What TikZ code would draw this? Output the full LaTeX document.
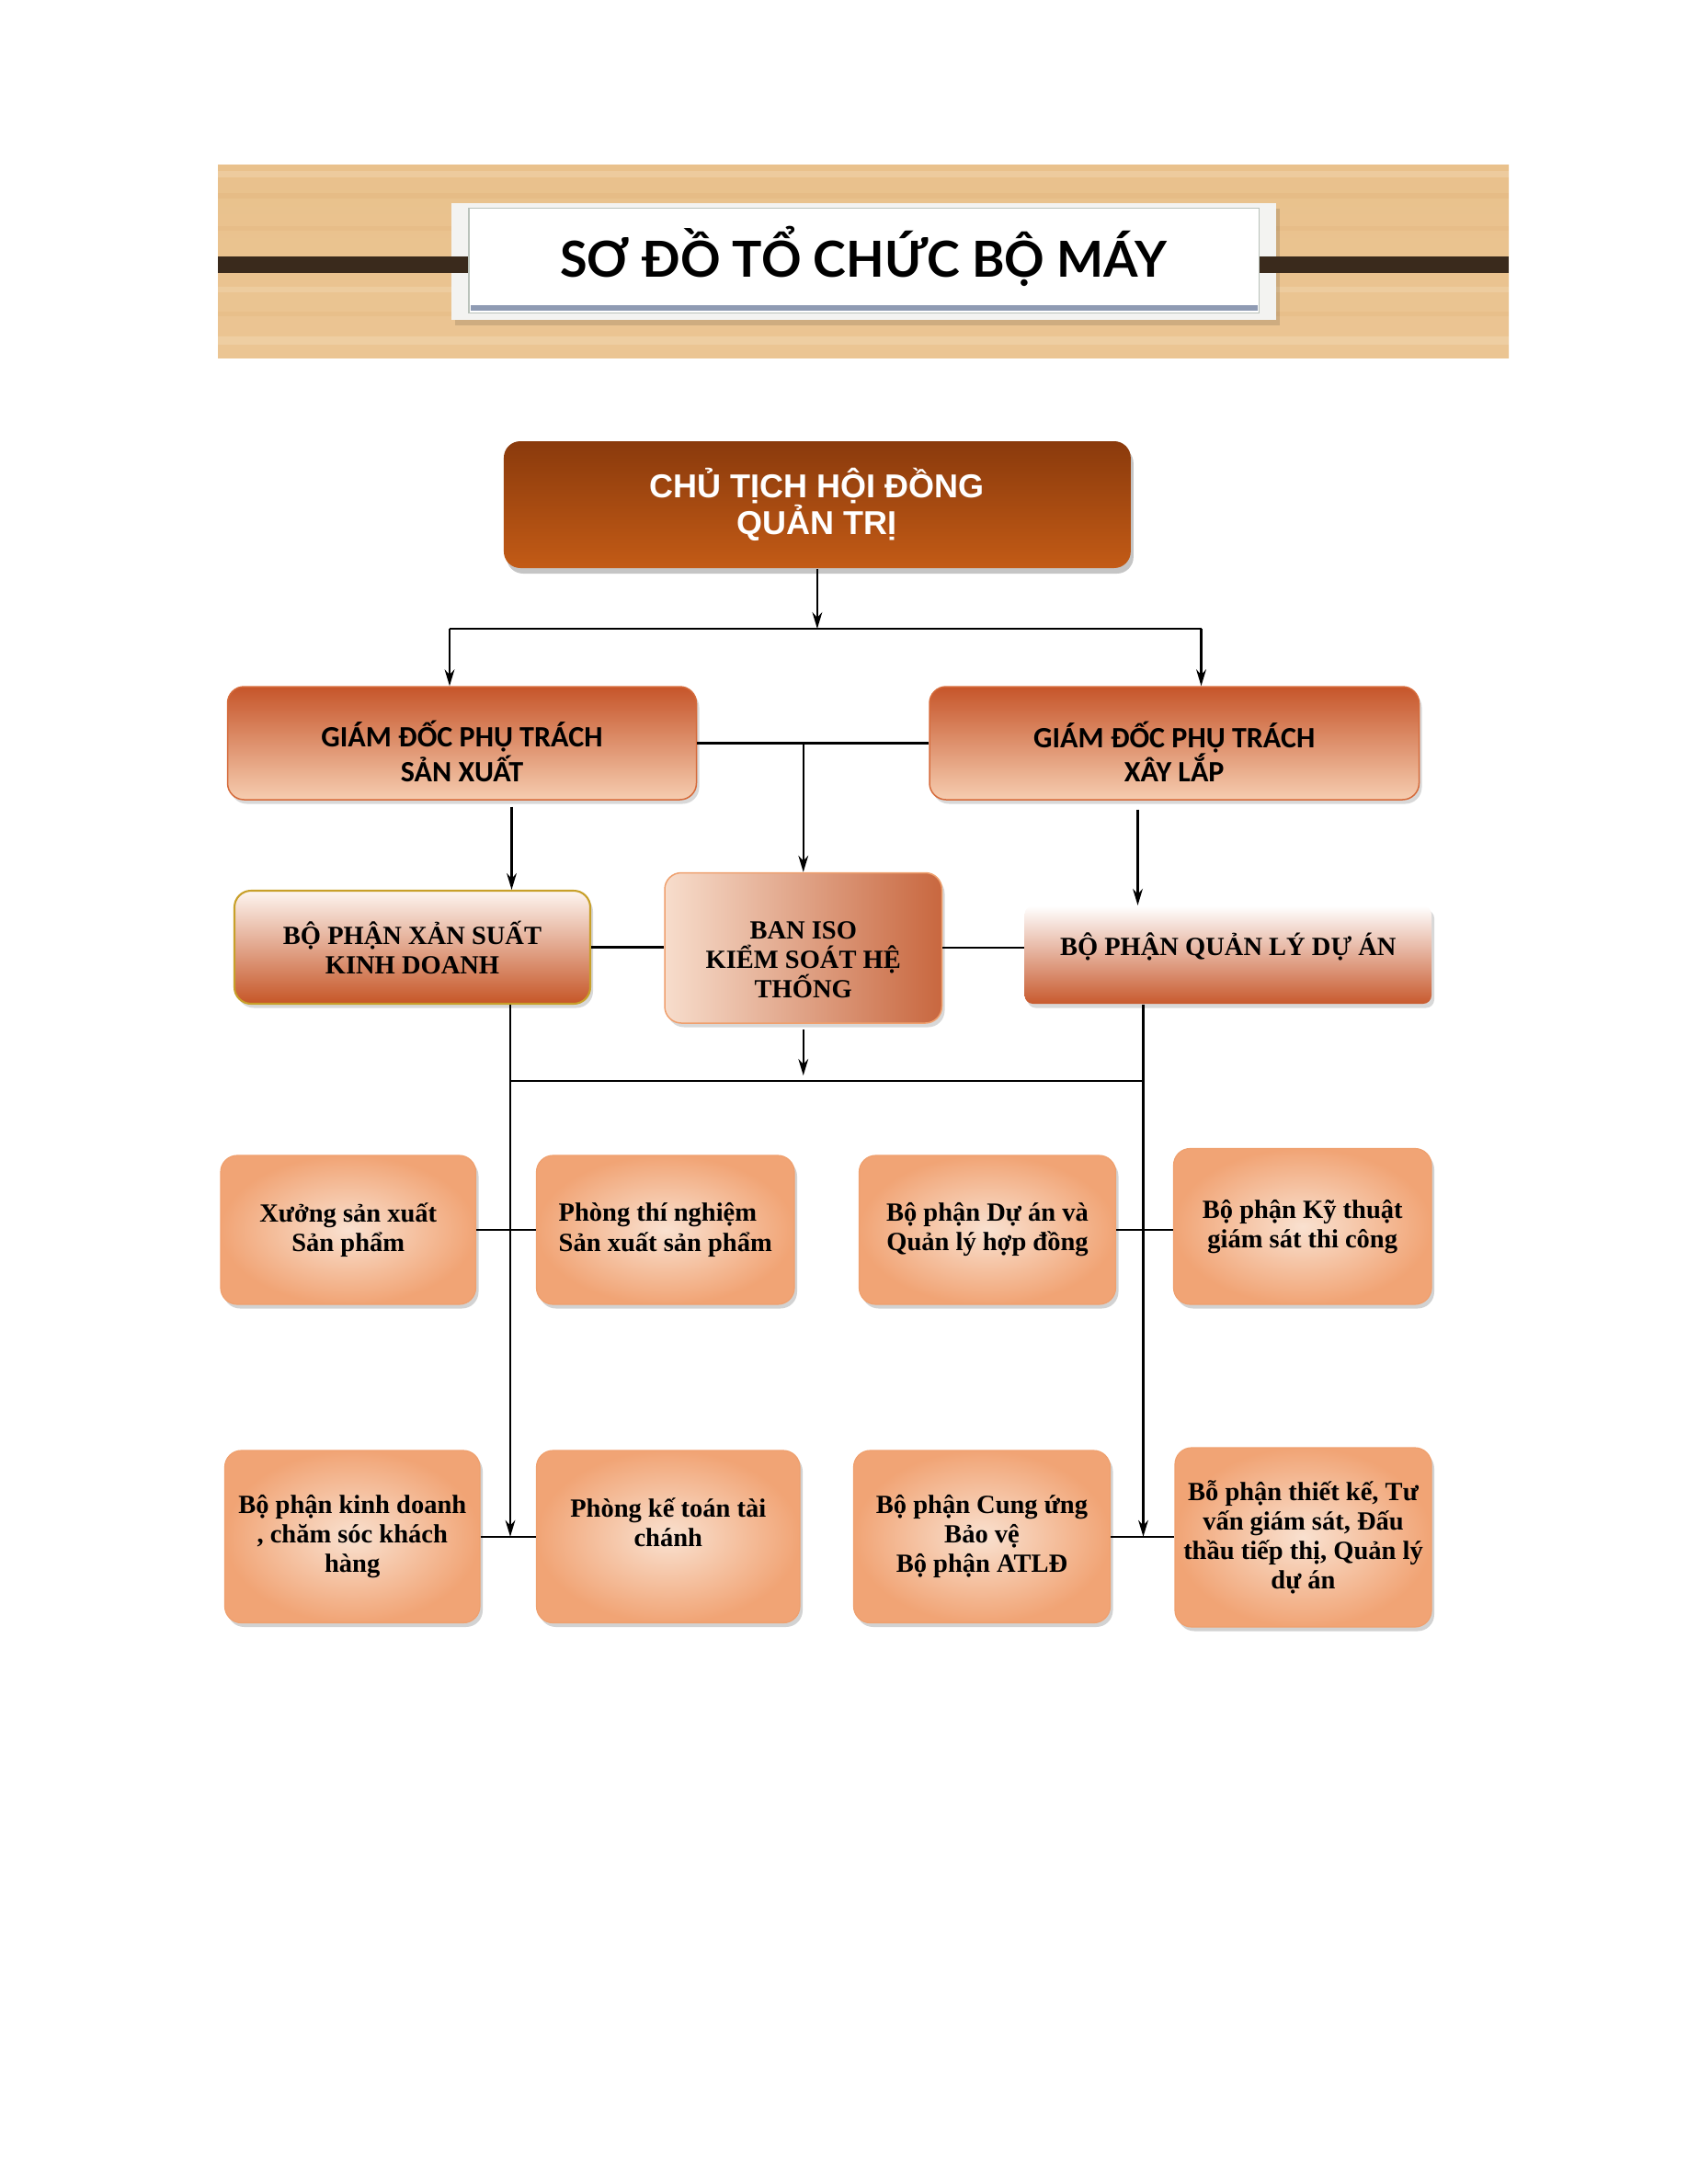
\documentclass[tikz,border=0pt]{standalone}
\usepackage{fontspec}
\setmainfont{Liberation Serif}
\newfontfamily\calibfont{Carlito}
\newfontfamily\latofont{Lato}
\newfontfamily\arialfont{Liberation Sans}
\usetikzlibrary{arrows.meta,shadows}

\definecolor{woodtop}{HTML}{E9C18C}
\definecolor{woodlight}{HTML}{F1D4AA}
\definecolor{woodbot}{HTML}{EBC593}
\definecolor{woodstreak}{HTML}{D9A468}
\definecolor{woodpale}{HTML}{F6E0C0}
\definecolor{stripe}{HTML}{3A2A1C}
\definecolor{framegray}{HTML}{F3F3F1}
\definecolor{frameline}{HTML}{B9C2BA}
\definecolor{titleblue}{HTML}{8F9BB3}
\definecolor{chutop}{HTML}{8A3A0C}
\definecolor{chubot}{HTML}{C35B16}
\definecolor{gdtop}{HTML}{C6552A}
\definecolor{gdmid}{HTML}{E39A76}
\definecolor{gdbot}{HTML}{F6CDB0}
\definecolor{gdedge}{HTML}{D56A3A}
\definecolor{xskdtop}{HTML}{FDF5F0}
\definecolor{xskdmid}{HTML}{E6AE94}
\definecolor{xskdbot}{HTML}{C65627}
\definecolor{xskdedge}{HTML}{C8A02A}
\definecolor{isoin}{HTML}{F7DDCC}
\definecolor{isomid}{HTML}{F2D0BC}
\definecolor{isoout}{HTML}{C8673F}
\definecolor{qldatop}{HTML}{FFFFFF}
\definecolor{qldamid}{HTML}{E6B29C}
\definecolor{qldabot}{HTML}{C85A2E}
\definecolor{peachin}{HTML}{F9E1D0}
\definecolor{peachout}{HTML}{F1A475}
\definecolor{peachedge}{HTML}{EFA06E}

% strut that pushes a first line down
\newcommand\dropline[1]{\rule{0pt}{#1}}

\tikzset{
  unitbox/.style={rounded corners=6pt, inner sep=0pt, align=center,
    font=\bfseries\fontsize{9.5}{10.7}\selectfont},
  chubox/.style={unitbox, top color=chutop, bottom color=chubot, text=white,
    drop shadow={shadow xshift=1pt, shadow yshift=-2pt, fill=black!45},
    font=\arialfont\bfseries\fontsize{12}{13.5}\selectfont},
  gdbox/.style={unitbox, draw=gdedge, line width=0.5pt, top color=gdtop,
    middle color=gdmid, bottom color=gdbot,
    drop shadow={shadow xshift=1pt, shadow yshift=-1.5pt, fill=black!30},
    font=\calibfont\bfseries\fontsize{10.7}{12.5}\selectfont},
  xskdbox/.style={unitbox, draw=xskdedge, line width=0.7pt, top color=xskdtop,
    middle color=xskdmid, bottom color=xskdbot,
    drop shadow={shadow xshift=1pt, shadow yshift=-1.5pt, fill=black!30}},
  isobox/.style={unitbox, draw=peachedge, line width=0.5pt, left color=isoin,
    middle color=isomid, right color=isoout,
    drop shadow={shadow xshift=1pt, shadow yshift=-1.5pt, fill=black!30}},
  qldabox/.style={unitbox, rounded corners=3pt, top color=qldatop,
    middle color=qldamid, bottom color=qldabot,
    drop shadow={shadow xshift=1pt, shadow yshift=-1.5pt, fill=black!30}},
  lowbox/.style={unitbox, draw=peachedge, line width=0.4pt, inner color=peachin,
    outer color=peachout,
    drop shadow={shadow xshift=1pt, shadow yshift=-1.5pt, fill=black!35}},
  link/.style={line width=0.7pt},
  feed/.style={link, -{Stealth[length=6pt,width=3.6pt]}}
}

\begin{document}
\begin{tikzpicture}[x=1pt,y=-1pt]
\useasboundingbox (0,0) rectangle (612,792);

% header
\shade[top color=woodtop, middle color=woodlight, bottom color=woodbot] (79,60) rectangle (547,129.7);
\fill[woodpale, opacity=0.35] (79,62) rectangle (547,64.5);
\fill[woodstreak, opacity=0.18] (79,70) rectangle (547,72);
\fill[woodstreak, opacity=0.15] (79,82) rectangle (547,83.5);
\fill[woodpale, opacity=0.3] (79,104) rectangle (547,106);
\fill[woodstreak, opacity=0.15] (79,113) rectangle (547,114.5);
\fill[woodpale, opacity=0.35] (79,122) rectangle (547,125);
\fill[black, opacity=0.12] (165,75.5) rectangle (464,118);
\fill[framegray] (163.5,73.5) rectangle (462.5,116);
\fill[stripe] (79,93) rectangle (170,99);
\fill[stripe] (456.5,93) rectangle (547,99);
\fill[white, draw=frameline, line width=0.5pt] (170,75.5) rectangle (456.5,113.5);
\fill[titleblue] (170.5,110.5) rectangle (456,112.5);
\node[font=\latofont\bfseries\fontsize{18}{22}\selectfont] (title) at (313,93) {SƠ ĐỒ TỔ CHỨC BỘ MÁY};

% boxes
\node[chubox, minimum width=227.3pt, minimum height=46pt] (chu) at (296.3,183) {CHỦ TỊCH HỘI ĐỒNG\\QUẢN TRỊ};
\node[gdbox, minimum width=170pt, minimum height=41pt] (gdsx) at (167.5,269.5) {\dropline{15.5pt}GIÁM ĐỐC PHỤ TRÁCH\\SẢN XUẤT};
\node[gdbox, minimum width=177.5pt, minimum height=41pt] (gdxl) at (425.75,269.5) {\dropline{15.5pt}GIÁM ĐỐC PHỤ TRÁCH\\XÂY LẮP};
\node[xskdbox, minimum width=129pt, minimum height=41pt] (xskd) at (149.5,343.5) {BỘ PHẬN XẢN SUẤT\\KINH DOANH};
\node[isobox, minimum width=100.5pt, minimum height=54.5pt] (iso) at (291.25,343.75) {\dropline{15pt}BAN ISO\\KIỂM SOÁT HỆ\\THỐNG};
\node[qldabox, minimum width=147.5pt, minimum height=35.5pt] (qlda) at (445.25,346.25) {BỘ PHẬN QUẢN LÝ DỰ ÁN\rule[-8pt]{0pt}{0pt}};

\node[lowbox, minimum width=92.5pt, minimum height=54pt] (xuong) at (126.25,446) {Xưởng sản xuất\\Sản phẩm};
\node[lowbox, minimum width=93.5pt, minimum height=54pt, align=left] (ptn) at (241.25,446) {Phòng thí nghiệm\\Sản xuất sản phẩm};
\node[lowbox, minimum width=93pt, minimum height=54pt] (duan) at (358,446) {Bộ phận Dự án và\\Quản lý hợp đồng};
\node[lowbox, minimum width=93.5pt, minimum height=56.5pt] (kythuat) at (472.25,444.75) {Bộ phận Kỹ thuật\\giám sát thi công};

\node[lowbox, minimum width=92.5pt, minimum height=62.5pt] (kd) at (127.75,557.25) {Bộ phận kinh doanh\\, chăm sóc khách\\hàng};
\node[lowbox, minimum width=95.5pt, minimum height=62.5pt] (ketoan) at (242.25,557.25) {Phòng kế toán tài\\chánh\\\mbox{}};
\node[lowbox, minimum width=93pt, minimum height=62.5pt] (cungung) at (356,557.25) {Bộ phận Cung ứng\\Bảo vệ\\Bộ phận ATLĐ};
\node[lowbox, minimum width=93pt, minimum height=65pt] (thietke) at (472.5,557.5) {Bỗ phận thiết kế, Tư\\vấn giám sát, Đấu\\thầu tiếp thị, Quản lý\\dự án};

% connectors
\coordinate (busTopL) at (163,228);
\coordinate (busTopR) at (435.5,228);
\draw[feed] (chu.south) -- (chu.south |- busTopL);
\draw[link] (busTopL) -- (busTopR);
\draw[feed] (busTopL) -- (busTopL |- gdsx.north);
\draw[feed] (busTopR) -- (busTopR |- gdxl.north);
\draw[link] (gdsx.east) -- (gdxl.west);
\draw[feed] (gdsx.east -| iso.north) -- (iso.north);

\coordinate (sxDrop) at (185.5,292.5);
\coordinate (xlDrop) at (412.5,293.5);
\draw[feed] (sxDrop) -- (sxDrop |- xskd.north);
\draw[feed] (xlDrop) -- (xlDrop |- qlda.north);
\draw[link] (xskd.east) -- (xskd.east -| iso.west);
\draw[link] (iso.east) -- (iso.east -| qlda.west);

\coordinate (trunkL) at (185,392);
\coordinate (trunkR) at (414.5,392);
\draw[link] (trunkL) -- (trunkR);
\draw[feed] ([yshift=-2pt]iso.south) -- ([yshift=2pt]iso.south |- trunkL);
\draw[feed] (xskd.south -| trunkL) -- (trunkL |- kd.east);
\draw[feed] (qlda.south -| trunkR) -- (trunkR |- cungung.east);

\draw[link] (xuong.east) -- (ptn.west);
\draw[link] (duan.east) -- (duan.east -| kythuat.west);
\draw[link] (kd.east) -- (ketoan.west);
\draw[link] (cungung.east) -- (cungung.east -| thietke.west);
\end{tikzpicture}
\end{document}
